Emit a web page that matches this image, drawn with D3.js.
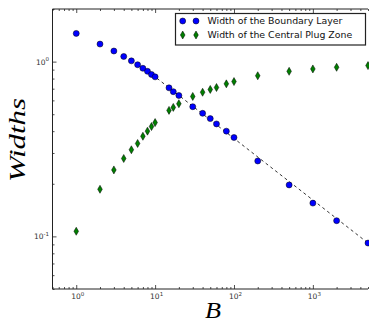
<!DOCTYPE html>
<html>
<head>
<meta charset="utf-8">
<script src="https://cdn.jsdelivr.net/npm/d3@7"></script>
<style>
  body { margin: 0; background: #fff; }
  svg { display: block; }
</style>
</head>
<body>
<div id="chart"></div>
<script>
// values
const bValues = [1, 2, 3, 4, 5, 6, 7, 8, 9, 10, 15, 17, 20, 30, 40, 50, 60, 80, 100, 200, 500, 1000, 2000, 5000];
const boundaryWidth = [1.45, 1.26, 1.15, 1.07, 1.01, 0.96, 0.916, 0.88, 0.844, 0.818, 0.708, 0.673, 0.64, 0.552, 0.506, 0.472, 0.44, 0.40, 0.368, 0.27, 0.197, 0.155, 0.123, 0.0916];
const plugWidth = [0.107, 0.186, 0.24, 0.279, 0.313, 0.34, 0.374, 0.40, 0.425, 0.448, 0.526, 0.547, 0.574, 0.632, 0.668, 0.693, 0.711, 0.746, 0.769, 0.83, 0.88, 0.908, 0.928, 0.949];
const fitB = [8, 5000];
const fitWidth = [0.885, 0.0916];
const seriesLabels = ['Width of the Boundary Layer', 'Width of the Central Plug Zone'];
const xMajor = [1, 10, 100, 1000];
const yMajor = [0.1, 1];

const W = 369, H = 322;
const mLeft = 52.5, mRight = 368, mTop = 9, mBottom = 289;

const svg = d3.select('#chart').append('svg')
  .attr('width', W).attr('height', H);

const x = d3.scaleLog().domain([0.5, 5000]).range([mLeft, mRight]);
const y = d3.scaleLog().domain([0.05, 2]).range([mBottom, mTop]);

// minor ticks for log axes
function minorTicks(lo, hi) {
  const out = [];
  for (let e = Math.floor(Math.log10(lo)); e <= Math.ceil(Math.log10(hi)); e++) {
    for (let m = 2; m <= 9; m++) {
      const v = m * Math.pow(10, e);
      if (v >= lo && v <= hi) out.push(v);
    }
  }
  return out;
}
const xMinor = minorTicks(0.5, 5000);
const yMinor = minorTicks(0.05, 2);

const tickColor = '#222';

function tickAxis(axisFn, scale, values, size, transform) {
  svg.append('g')
    .attr('transform', transform)
    .call(axisFn(scale).tickValues(values).tickSize(size).tickFormat(''))
    .call(g => g.select('.domain').remove())
    .call(g => g.selectAll('line').attr('stroke', tickColor).attr('stroke-width', 0.8));
}
// inside ticks: bottom, top, left
tickAxis(d3.axisBottom, x, xMajor, -4, `translate(0,${mBottom})`);
tickAxis(d3.axisBottom, x, xMinor, -2, `translate(0,${mBottom})`);
tickAxis(d3.axisTop, x, xMajor, -4, `translate(0,${mTop})`);
tickAxis(d3.axisTop, x, xMinor, -2, `translate(0,${mTop})`);
tickAxis(d3.axisLeft, y, yMajor, -4, `translate(${mLeft},0)`);
tickAxis(d3.axisLeft, y, yMinor, -2, `translate(${mLeft},0)`);

// spines
svg.append('path')
  .attr('d', `M${mRight},${mTop}H${mLeft}V${mBottom}H${mRight}`)
  .attr('fill', 'none').attr('stroke', tickColor).attr('stroke-width', 1);

// tick labels 10^n
function powLabel(sel, v) {
  const e = Math.round(Math.log10(v));
  sel.append('tspan').text('10');
  sel.append('tspan').attr('dy', -3.5).attr('font-size', 5.5).text(e);
}
xMajor.forEach(v => {
  const t = svg.append('text')
    .attr('x', x(v) + 1.5).attr('y', mBottom + 10)
    .attr('text-anchor', 'middle')
    .attr('font-family', 'DejaVu Sans').attr('font-size', 7.5).attr('fill', '#333');
  powLabel(t, v);
});
yMajor.forEach(v => {
  const t = svg.append('text')
    .attr('x', mLeft - 3.5).attr('y', y(v) + 3)
    .attr('text-anchor', 'end')
    .attr('font-family', 'DejaVu Sans').attr('font-size', 7.5).attr('fill', '#333');
  powLabel(t, v);
});

// axis labels
svg.append('text')
  .attr('x', 213).attr('y', 318)
  .attr('text-anchor', 'middle')
  .attr('font-family', 'Liberation Serif').attr('font-style', 'italic').attr('font-size', 24)
  .attr('textLength', 16).attr('lengthAdjust', 'spacingAndGlyphs')
  .text('B');
svg.append('text')
  .attr('transform', `translate(25,140) rotate(-90)`)
  .attr('text-anchor', 'middle')
  .attr('font-family', 'Liberation Serif').attr('font-style', 'italic').attr('font-size', 23)
  .attr('textLength', 84).attr('lengthAdjust', 'spacingAndGlyphs')
  .text('Widths');

const plot = svg.append('g');

// dashed fit line
const line = d3.line().x(d => x(d[0])).y(d => y(d[1]));
plot.append('path')
  .datum(fitB.map((b, i) => [b, fitWidth[i]]))
  .attr('d', line)
  .attr('fill', 'none').attr('stroke', '#000').attr('stroke-width', 0.8)
  .attr('stroke-dasharray', '3,3');

const blue = '#0000ff', green = '#007f00';
const diamond = 'M0,-4L2.3,0L0,4L-2.3,0Z';

plot.selectAll('.bl').data(bValues).enter().append('circle')
  .attr('cx', d => x(d)).attr('cy', (d, i) => y(boundaryWidth[i]))
  .attr('r', 3).attr('fill', blue).attr('stroke', '#000').attr('stroke-width', 0.5);

plot.selectAll('.pz').data(bValues).enter().append('path')
  .attr('transform', (d, i) => `translate(${x(d)},${y(plugWidth[i])})`)
  .attr('d', diamond).attr('fill', green).attr('stroke', '#000').attr('stroke-width', 0.5);

// legend
const lg = svg.append('g');
lg.append('rect')
  .attr('x', 175.5).attr('y', 13.5).attr('width', 190).attr('height', 31.5)
  .attr('fill', '#fff').attr('stroke', '#222').attr('stroke-width', 1.2);
[0, 1].forEach(i => {
  const cy = 21 + i * 14;
  [182.7, 196].forEach(cx => {
    if (i === 0) {
      lg.append('circle').attr('cx', cx).attr('cy', cy).attr('r', 3)
        .attr('fill', blue).attr('stroke', '#000').attr('stroke-width', 0.5);
    } else {
      lg.append('path').attr('transform', `translate(${cx},${cy})`).attr('d', diamond)
        .attr('fill', green).attr('stroke', '#000').attr('stroke-width', 0.5);
    }
  });
  lg.append('text')
    .attr('x', 207.5).attr('y', cy + 3.3)
    .attr('font-family', 'DejaVu Sans').attr('font-size', 9.4).attr('fill', '#111')
    .text(seriesLabels[i]);
});
</script>
</body>
</html>
